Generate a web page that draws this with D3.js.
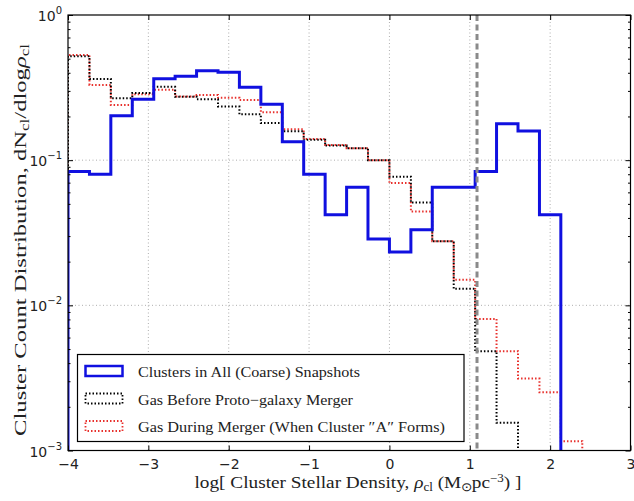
<!DOCTYPE html>
<html><head><meta charset="utf-8">
<script src="https://cdn.jsdelivr.net/npm/d3@7"></script>
<style>body{margin:0;background:#fff}svg{display:block}</style>
</head><body>
<svg id="chart" width="634" height="501"></svg>
<script>
// bin edges (log rho)
const binEdges = [-4.000,-3.733,-3.467,-3.200,-2.933,-2.667,-2.400,-2.133,-1.867,-1.600,-1.333,-1.067,-0.800,-0.533,-0.267,0.000,0.267,0.533,0.800,1.067,1.333,1.600,1.867,2.133,2.400];
// series values (0 = below plotted range)
const allSnapshots = [0.0835,0.080,0.202,0.263,0.364,0.378,0.413,0.404,0.318,0.243,0.134,0.080,0.042,0.065,0.0286,0.0233,0.0332,0.065,0.065,0.0835,0.178,0.159,0.042,0];
const gasBefore   = [0.52,0.362,0.267,0.29,0.32,0.273,0.263,0.234,0.207,0.18,0.158,0.138,0.126,0.121,0.1,0.077,0.051,0.0276,0.013,0.00483,0.00155,0,0,0];
const gasDuring   = [0.53,0.33,0.24,0.285,0.305,0.275,0.281,0.269,0.26,0.214,0.163,0.14,0.127,0.121,0.1,0.0695,0.0443,0.0276,0.015,0.00806,0.00483,0.00313,0.00252,0.00116];
const seriesNames = ["Clusters in All (Coarse) Snapshots","Gas Before Proto\u2212galaxy Merger","Gas During Merger (When Cluster \u2033A\u2033 Forms)"];
const xTicks = [-4,-3,-2,-1,0,1,2,3];
const yTicks = [1e-3,1e-2,1e-1,1];
const yTickExp = ["-3","-2","-1","0"];
const clusterA = 1.09;

const svg = d3.select("#chart");
const L=68, R=630.5, T=15, B=450.5;
const x = d3.scaleLinear().domain([-4,3]).range([L,R]);
const y = d3.scaleLog().domain([1e-3,1]).range([B,T]);

svg.append("defs").append("clipPath").attr("id","clip")
  .append("rect").attr("x",L).attr("y",T).attr("width",R-L).attr("height",B-T);

// grid
const grid = svg.append("g");
grid.selectAll("line.gx").data(xTicks.slice(1,-1)).join("line")
  .attr("x1",d=>x(d)).attr("x2",d=>x(d)).attr("y1",T).attr("y2",B)
  .attr("stroke","#999").attr("stroke-width",0.8).attr("stroke-dasharray","1,2.5");
grid.selectAll("line.gy").data(yTicks.slice(1,-1)).join("line")
  .attr("y1",d=>y(d)).attr("y2",d=>y(d)).attr("x1",L).attr("x2",R)
  .attr("stroke","#999").attr("stroke-width",0.8).attr("stroke-dasharray","1,2.5");

function stepPath(vals){
  const pts=[];
  const yy=v=> v>0 ? y(v) : B+20;
  pts.push([x(binEdges[0]), B+20]);
  vals.forEach((v,i)=>{ pts.push([x(binEdges[i]),yy(v)]); pts.push([x(binEdges[i+1]),yy(v)]); });
  pts.push([x(binEdges[binEdges.length-1]), B+20]);
  return d3.line()(pts);
}
const plot = svg.append("g").attr("clip-path","url(#clip)");
plot.append("path").attr("d",stepPath(gasDuring)).attr("fill","none")
  .attr("stroke","#e8302c").attr("stroke-width",2).attr("stroke-dasharray","1.5,2");
plot.append("path").attr("d",stepPath(gasBefore)).attr("fill","none")
  .attr("stroke","#000").attr("stroke-width",2).attr("stroke-dasharray","1.5,2");
plot.append("path").attr("d",stepPath(allSnapshots)).attr("fill","none")
  .attr("stroke","#1010e0").attr("stroke-width",3);
plot.append("line").attr("x1",x(clusterA)).attr("x2",x(clusterA)).attr("y1",T).attr("y2",B)
  .attr("stroke","#8a8a8a").attr("stroke-width",3).attr("stroke-dasharray","6,3.5");

// axes frame & ticks
const ax = svg.append("g");
ax.append("rect").attr("x",L).attr("y",T).attr("width",R-L).attr("height",B-T)
  .attr("fill","none").attr("stroke","#000").attr("stroke-width",1.2);
const xAxisB = d3.axisBottom(x).tickValues(xTicks).tickSizeInner(-5).tickSizeOuter(0).tickFormat(d=>d3.format("")(d).replace("-","\u2212"));
const gxb = ax.append("g").attr("transform",`translate(0,${B})`).call(xAxisB);
gxb.select(".domain").remove();
gxb.selectAll("text").attr("y",9).attr("font-family","DejaVu Sans").attr("font-size",14).attr("fill","#222");
const gxt = ax.append("g").attr("transform",`translate(0,${T})`).call(d3.axisTop(x).tickValues(xTicks).tickSizeInner(-5).tickSizeOuter(0).tickFormat(""));
gxt.select(".domain").remove();

const minor = [];
[1e-3,1e-2,1e-1].forEach(dec=>{ for(let k=2;k<=9;k++) minor.push(dec*k); });
[["L",d3.axisLeft,L],["R",d3.axisRight,R]].forEach(([n,f,pos])=>{
  const g1 = ax.append("g").attr("transform",`translate(${pos},0)`).call(f(y).tickValues(yTicks).tickSizeInner(-5).tickSizeOuter(0).tickFormat(""));
  g1.select(".domain").remove();
  const g2 = ax.append("g").attr("transform",`translate(${pos},0)`).call(f(y).tickValues(minor).tickSizeInner(-2.5).tickSizeOuter(0).tickFormat(""));
  g2.select(".domain").remove();
});
// y tick labels 10^n
const yl = ax.append("g");
yTicks.forEach((t,i)=>{
  const tx = yl.append("text").attr("x",62).attr("y",y(t)+6).attr("text-anchor","end")
    .attr("font-family","DejaVu Sans").attr("font-size",14).attr("fill","#222");
  tx.append("tspan").text("10");
  tx.append("tspan").attr("dy",-7).attr("font-size",10).text(yTickExp[i].replace("-","\u2212"));
});

function fitText(sel, target, pre){
  const w = sel.node().getComputedTextLength();
  sel.attr("transform", pre + ` scale(${target/w},1)`);
}
// axis labels
const xl = svg.append("text").attr("x",0).attr("y",0).attr("text-anchor","middle")
  .attr("font-family","Liberation Serif").attr("font-size",17).attr("fill","#222");
xl.append("tspan").text("log[ Cluster Stellar Density, ");
xl.append("tspan").attr("font-style","italic").text("\u03c1");
xl.append("tspan").attr("dy",3).attr("font-size",11.5).text("cl");
xl.append("tspan").attr("dy",-3).text(" (M");
xl.append("tspan").attr("dy",3).attr("font-size",11.5).text("\u2299");
xl.append("tspan").attr("dy",-3).text("pc");
xl.append("tspan").attr("dy",-6).attr("font-size",11.5).text("\u22123");
xl.append("tspan").attr("dy",6).text(") ]");
fitText(xl, 328, "translate(358,488)");

const ylab = svg.append("text").attr("x",0).attr("y",0).attr("text-anchor","middle")
  .attr("font-family","Liberation Serif").attr("font-size",17.5).attr("fill","#222");
ylab.append("tspan").text("Cluster Count Distribution, dN");
ylab.append("tspan").attr("dy",3).attr("font-size",12).text("cl");
ylab.append("tspan").attr("dy",-3).text("/dlog");
ylab.append("tspan").attr("font-style","italic").text("\u03c1");
ylab.append("tspan").attr("dy",3).attr("font-size",12).text("cl");
fitText(ylab, 392, "translate(26,240) rotate(-90)");

// legend
const lg = svg.append("g");
lg.append("rect").attr("x",77.5).attr("y",354.5).attr("width",386.5).attr("height",87)
  .attr("fill","#fff").attr("stroke","#000").attr("stroke-width",1.2);
const styles = [
  {stroke:"#1010e0",w:2.5,dash:null},
  {stroke:"#000",w:1.8,dash:"1.5,2"},
  {stroke:"#e8302c",w:1.8,dash:"1.5,2"}
];
const rowsY = [377,404.5,432];
const textLens = [222,215,307];
seriesNames.forEach((nm,i)=>{
  lg.append("rect").attr("x",85.5).attr("y",rowsY[i]-11).attr("width",37).attr("height",10)
    .attr("fill","#fff").attr("stroke",styles[i].stroke).attr("stroke-width",styles[i].w)
    .attr("stroke-dasharray",styles[i].dash);
  lg.append("text").attr("x",138).attr("y",rowsY[i]).attr("font-family","Liberation Serif")
    .attr("font-size",15).attr("fill","#222").attr("textLength",textLens[i]).attr("lengthAdjust","spacingAndGlyphs").text(nm);
});
</script>
</body></html>
